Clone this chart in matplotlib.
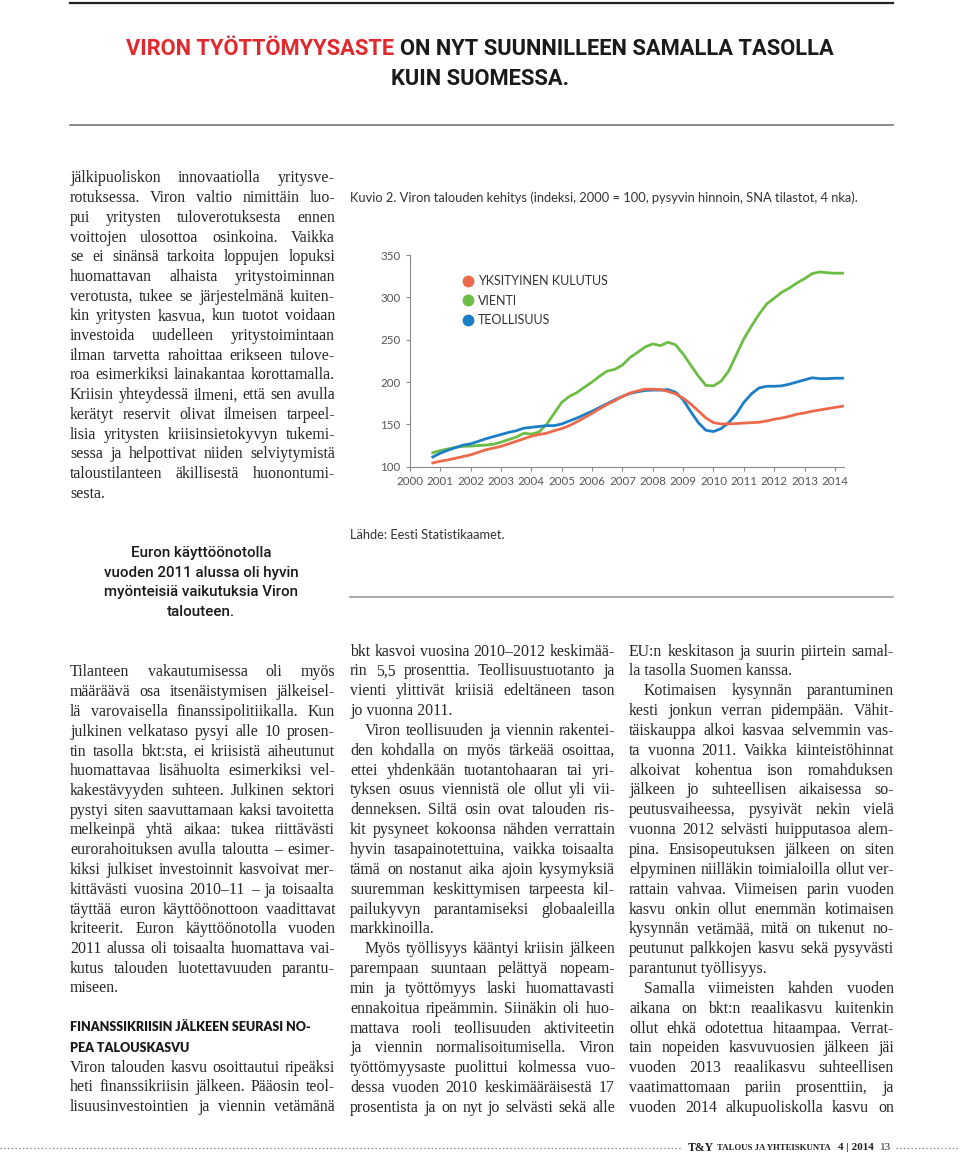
import numpy as np
import matplotlib.pyplot as plt
from matplotlib.font_manager import FontProperties
from matplotlib.lines import Line2D

W, H = 960, 1155

# neljännesvuosittaiset indeksit (2000 = 100)
quarters = np.arange(2000.75, 2014.3, 0.25)
kulutus = [104.5, 106.5, 108, 110, 112, 114, 117, 120, 122, 124, 127, 130, 133, 136,
           138, 139.5, 142.5, 145, 148.5, 153, 158, 163, 168.5, 173.5, 178, 183, 187,
           189.5, 191.5, 191.5, 191, 189, 186, 181, 174, 166, 157.5, 152, 150.5, 150.5,
           151, 151.5, 152, 152.5, 154, 156, 157.5, 159.5, 162, 163.5, 165.5, 167,
           168.5, 170, 171.5]
vienti = [116.5, 119, 121, 123, 124, 124.3, 125, 125.5, 126.5, 129, 132, 135, 139.5,
          138.5, 141, 150, 163, 176, 183, 187.5, 194, 200, 207, 213, 215, 220, 229,
          235, 241.5, 245, 243, 247, 244, 233, 220, 207, 196, 195.5, 201, 213, 232,
          251, 266, 280, 292, 299, 306, 311, 317, 322, 328, 330, 329, 328.5, 328.5]
teollisuus = [111.5, 116, 119.5, 122.5, 125.5, 127, 130, 133, 135.5, 138, 140.5, 142.5,
              145.5, 146.5, 147.5, 148.5, 148.5, 150.5, 154, 157.5, 161.5, 165.5, 170,
              174.5, 179, 183, 186.5, 188.5, 190, 190.5, 190.5, 191, 188, 179, 165, 152,
              143, 141.5, 145, 152, 162, 176, 186, 193, 195, 195, 195.5, 197.5, 200,
              202.5, 205, 204, 204, 204.5, 204.5]
years = list(range(2000, 2015))
yticks = [100, 150, 200, 250, 300, 350]
series_names = ['YKSITYINEN KULUTUS', 'VIENTI', 'TEOLLISUUS']

title_red = 'VIRON TYÖTTÖMYYSASTE '
title_black = 'ON NYT SUUNNILLEEN SAMALLA TASOLLA'
title_2 = 'KUIN SUOMESSA.'
caption = 'Kuvio 2. Viron talouden kehitys (indeksi, 2000 = 100, pysyvin hinnoin, SNA tilastot, 4 nka).'
source = 'Lähde: Eesti Statistikaamet.'
quote = ['Euron käyttöönotolla', 'vuoden 2011 alussa oli hyvin',
         'myönteisiä vaikutuksia Viron', 'talouteen.']
heading = ['FINANSSIKRIISIN JÄLKEEN SEURASI NO-', 'PEA TALOUSKASVU']

# '>' = sisennys, '|' = kappaleen viimeinen rivi
top_col = [
    'jälkipuoliskon innovaatiolla yritysve-',
    'rotuksessa. Viron valtio nimittäin luo-',
    'pui yritysten tuloverotuksesta ennen',
    'voittojen ulosottoa osinkoina. Vaikka',
    'se ei sinänsä tarkoita loppujen lopuksi',
    'huomattavan alhaista yritystoiminnan',
    'verotusta, tukee se järjestelmänä kuiten-',
    'kin yritysten kasvua, kun tuotot voidaan',
    'investoida uudelleen yritystoimintaan',
    'ilman tarvetta rahoittaa erikseen tulove-',
    'roa esimerkiksi lainakantaa korottamalla.',
    'Kriisin yhteydessä ilmeni, että sen avulla',
    'kerätyt reservit olivat ilmeisen tarpeel-',
    'lisia yritysten kriisinsietokyvyn tukemi-',
    'sessa ja helpottivat niiden selviytymistä',
    'taloustilanteen äkillisestä huonontumi-',
    'sesta.|',
]
col1 = [
    'Tilanteen vakautumisessa oli myös',
    'määräävä osa itsenäistymisen jälkeisel-',
    'lä varovaisella finanssipolitiikalla. Kun',
    'julkinen velkataso pysyi alle 10 prosen-',
    'tin tasolla bkt:sta, ei kriisistä aiheutunut',
    'huomattavaa lisähuolta esimerkiksi vel-',
    'kakestävyyden suhteen. Julkinen sektori',
    'pystyi siten saavuttamaan kaksi tavoitetta',
    'melkeinpä yhtä aikaa: tukea riittävästi',
    'eurorahoituksen avulla taloutta – esimer-',
    'kiksi julkiset investoinnit kasvoivat mer-',
    'kittävästi vuosina 2010–11 – ja toisaalta',
    'täyttää euron käyttöönottoon vaadittavat',
    'kriteerit. Euron käyttöönotolla vuoden',
    '2011 alussa oli toisaalta huomattava vai-',
    'kutus talouden luotettavuuden parantu-',
    'miseen.|',
    '', '', '',
    'Viron talouden kasvu osoittautui ripeäksi',
    'heti finanssikriisin jälkeen. Pääosin teol-',
    'lisuusinvestointien ja viennin vetämänä',
]
col2 = [
    'bkt kasvoi vuosina 2010–2012 keskimää-',
    'rin 5,5 prosenttia. Teollisuustuotanto ja',
    'vienti ylittivät kriisiä edeltäneen tason',
    'jo vuonna 2011.|',
    '>Viron teollisuuden ja viennin rakentei-',
    'den kohdalla on myös tärkeää osoittaa,',
    'ettei yhdenkään tuotantohaaran tai yri-',
    'tyksen osuus viennistä ole ollut yli vii-',
    'denneksen. Siltä osin ovat talouden ris-',
    'kit pysyneet kokoonsa nähden verrattain',
    'hyvin tasapainotettuina, vaikka toisaalta',
    'tämä on nostanut aika ajoin kysymyksiä',
    'suuremman keskittymisen tarpeesta kil-',
    'pailukyvyn parantamiseksi globaaleilla',
    'markkinoilla.|',
    '>Myös työllisyys kääntyi kriisin jälkeen',
    'parempaan suuntaan pelättyä nopeam-',
    'min ja työttömyys laski huomattavasti',
    'ennakoitua ripeämmin. Siinäkin oli huo-',
    'mattava rooli teollisuuden aktiviteetin',
    'ja viennin normalisoitumisella. Viron',
    'työttömyysaste puolittui kolmessa vuo-',
    'dessa vuoden 2010 keskimääräisestä 17',
    'prosentista ja on nyt jo selvästi sekä alle',
]
col3 = [
    'EU:n keskitason ja suurin piirtein samal-',
    'la tasolla Suomen kanssa.|',
    '>Kotimaisen kysynnän parantuminen',
    'kesti jonkun verran pidempään. Vähit-',
    'täiskauppa alkoi kasvaa selvemmin vas-',
    'ta vuonna 2011. Vaikka kiinteistöhinnat',
    'alkoivat kohentua ison romahduksen',
    'jälkeen jo suhteellisen aikaisessa so-',
    'peutusvaiheessa, pysyivät nekin vielä',
    'vuonna 2012 selvästi huipputasoa alem-',
    'pina. Ensisopeutuksen jälkeen on siten',
    'elpyminen niilläkin toimialoilla ollut ver-',
    'rattain vahvaa. Viimeisen parin vuoden',
    'kasvu onkin ollut enemmän kotimaisen',
    'kysynnän vetämää, mitä on tukenut no-',
    'peutunut palkkojen kasvu sekä pysyvästi',
    'parantunut työllisyys.|',
    '>Samalla viimeisten kahden vuoden',
    'aikana on bkt:n reaalikasvu kuitenkin',
    'ollut ehkä odotettua hitaampaa. Verrat-',
    'tain nopeiden kasvuvuosien jälkeen jäi',
    'vuoden 2013 reaalikasvu suhteellisen',
    'vaatimattomaan pariin prosenttiin, ja',
    'vuoden 2014 alkupuoliskolla kasvu on',
]

ORANGE = '#ec6a4c'
GREEN = '#6cbd45'
BLUE = '#1c7ec4'
RED = '#e1282d'
TXT = '#262626'
GREY = '#555555'

fig = plt.figure(figsize=(W / 100, H / 100), dpi=100)
renderer = fig.canvas.get_renderer()


def tw(s, fp):
    return renderer.get_text_width_height_descent(s, fp, ismath=False)[0]


def fy(y):
    return 1 - y / H


def hline(x0, x1, y, **kw):
    fig.add_artist(Line2D([x0 / W, x1 / W], [fy(y), fy(y)], transform=fig.transFigure, **kw))


# --- otsikko ---
hline(70, 893, 3, color='#222222', lw=1.6)
hline(70, 893, 125, color='#777777', lw=1.2)
fp_t = FontProperties(family='Roboto', weight='bold', size=16)
full = tw(title_red + title_black, fp_t)
fp_t.set_size(16 * 710 / full)
full = tw(title_red + title_black, fp_t)
x_start = 480 - full / 2
fig.text(x_start / W, fy(55), title_red, fontproperties=fp_t, color=RED, va='baseline')
fig.text((x_start + tw(title_red, fp_t)) / W, fy(55), title_black, fontproperties=fp_t,
         color='#1a1a1a', va='baseline')
fig.text(0.5, fy(85), title_2, fontproperties=fp_t, color='#1a1a1a', va='baseline', ha='center')

# --- leipäteksti ---
fp_b = FontProperties(family='Liberation Serif', size=10)
col_w = 265
ratios = []
for col in (top_col, col1, col2, col3):
    for line in col:
        if line and not line.endswith('|'):
            ind = 15 if line.startswith('>') else 0
            ratios.append((col_w - ind) / tw(line.strip('>|'), fp_b))
fp_b.set_size(10 * min(ratios))


def put_lines(lines, x0, y0, step=19.8):
    for k, line in enumerate(lines):
        if not line:
            continue
        ind = 15 if line.startswith('>') else 0
        s = line.strip('>|')
        y = fy(y0 + k * step + 4.5)
        words = s.split(' ')
        if line.endswith('|') or len(words) == 1:
            fig.text((x0 + ind) / W, y, s, fontproperties=fp_b, color=TXT, va='baseline')
            continue
        widths = [tw(w, fp_b) for w in words]
        gap = (col_w - ind - sum(widths)) / (len(words) - 1)
        x = x0 + ind
        for w, ww in zip(words, widths):
            fig.text(x / W, y, w, fontproperties=fp_b, color=TXT, va='baseline')
            x += ww + gap


put_lines(top_col, 70, 178, step=19.7)
put_lines(col1, 70, 672, step=19.75)
put_lines(col2, 350, 651, step=19.85)
put_lines(col3, 629, 651, step=19.85)

fp_h = FontProperties(family='Lato', weight='heavy', size=8.5)
fp_h.set_size(8.5 * 242 / tw(heading[0], fp_h))
for k, s in enumerate(heading):
    fig.text(70 / W, fy(1031 + k * 21), s, fontproperties=fp_h, color='#1a1a1a', va='baseline')

# --- nosto ---
fp_q = FontProperties(family='Roboto', weight='medium', size=12)
fp_q.set_size(12 * 195 / tw(quote[2], fp_q))
for k, s in enumerate(quote):
    fig.text(201 / W, fy(557 + k * 19.7), s, fontproperties=fp_q, color='#1a1a1a',
             va='baseline', ha='center')

# --- kuvio ---
fp_c = FontProperties(family='Lato', size=9)
fp_c.set_size(9 * 510 / tw(caption, fp_c))
fig.text(350 / W, fy(202), caption, fontproperties=fp_c, color='#333333', va='baseline')
fig.text(350 / W, fy(539), source, fontproperties=fp_c, color='#333333', va='baseline')
hline(350, 893, 597, color='#999999', lw=1.2)

ax = fig.add_axes([410 / W, fy(466.7), 434 / W, 211.7 / H])
ax.plot(quarters, vienti, color=GREEN, lw=2.0, label=series_names[1])
ax.plot(quarters, teollisuus, color=BLUE, lw=2.0, label=series_names[2])
ax.plot(quarters, kulutus, color=ORANGE, lw=2.0, label=series_names[0])
ax.set_xlim(2000, 2014.3)
ax.set_ylim(100, 350)
ax.set_xticks(years)
ax.set_yticks(yticks)
for side in ('top', 'right'):
    ax.spines[side].set_visible(False)
for side in ('left', 'bottom'):
    ax.spines[side].set_color('#8a8a8a')
    ax.spines[side].set_linewidth(0.8)
ax.tick_params(length=3, width=0.8, color='#8a8a8a', labelcolor=GREY, labelsize=8.3, pad=4)
for lab in ax.get_xticklabels() + ax.get_yticklabels():
    lab.set_family('Lato')

handles = [Line2D([], [], marker='o', ls='', color=c, markersize=7.5) for c in (ORANGE, GREEN, BLUE)]
leg = ax.legend(handles, series_names, loc='upper left', bbox_to_anchor=(463 / W, fy(275)),
                bbox_transform=fig.transFigure, frameon=False, borderpad=0, borderaxespad=0,
                handlelength=0.8, handletextpad=0.4, labelspacing=0.62,
                prop=FontProperties(family='Lato', size=9))
for t in leg.get_texts():
    t.set_color('#333333')

# --- alatunniste ---
fig.add_artist(Line2D([0, 680 / W], [fy(1148), fy(1148)], transform=fig.transFigure,
                      color='#777777', lw=0.9, ls=(0, (1, 2))))
fig.add_artist(Line2D([896 / W, 1], [fy(1148), fy(1148)], transform=fig.transFigure,
                      color='#777777', lw=0.9, ls=(0, (1, 2))))
fs = dict(family='Liberation Serif', color='#222222', va='center')
fig.text(688 / W, fy(1148), 'T&Y', fontsize=8.5, weight='bold', **fs)
fig.text(717 / W, fy(1148), 'TALOUS JA YHTEISKUNTA', fontsize=6.3, weight='bold', **fs)
fig.text(838 / W, fy(1148), '4 | 2014', fontsize=8, weight='bold', **fs)
fig.text(880 / W, fy(1148), '13', fontsize=8, **fs)

fig.savefig('out.png', dpi=100, facecolor='white')
